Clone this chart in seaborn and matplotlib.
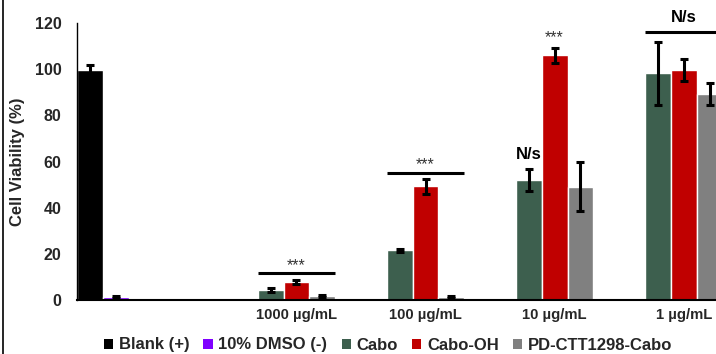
import matplotlib
matplotlib.use("Agg")
import matplotlib.pyplot as plt
import pandas as pd
import seaborn as sns
from matplotlib.patches import Patch

# data
conc = ["", "1000 µg/mL", "100 µg/mL", "10 µg/mL", "1 µg/mL"]
samples = ["Blank (+)", "10% DMSO (-)", "Cabo", "Cabo-OH", "PD-CTT1298-Cabo"]
colors = ["#000000", "#7F00FF", "#3D5F4E", "#C00000", "#808080"]

blank_mean = [99.5]
blank_sd = [2.5]
dmso_mean = [1.3]
dmso_sd = [0.3]
cabo_mean = [4.3, 21.5, 52.0, 98.2]
cabo_sd = [0.8, 0.6, 4.7, 13.7]
caboOH_mean = [7.9, 49.2, 106.0, 99.6]
caboOH_sd = [0.8, 3.2, 3.2, 4.9]
pd_mean = [1.7, 1.2, 49.1, 89.1]
pd_sd = [0.4, 0.4, 10.5, 4.8]

# significance marks: (concentration, text, text height, line height or None, sample under text)
sig_marks = [
    ("1000 µg/mL", "***", 14.7, 11.7, "Cabo-OH"),
    ("100 µg/mL", "***", 58.5, 55.2, "Cabo-OH"),
    ("10 µg/mL", "***", 113.5, None, "Cabo-OH"),
    ("10 µg/mL", "N/s", 63.0, None, "Cabo"),
    ("1 µg/mL", "N/s", 122.5, 116.0, "Cabo-OH"),
]

rows = []
for s, means, sds, cats in [
    (samples[0], blank_mean, blank_sd, conc[:1]),
    (samples[1], dmso_mean, dmso_sd, conc[:1]),
    (samples[2], cabo_mean, cabo_sd, conc[1:]),
    (samples[3], caboOH_mean, caboOH_sd, conc[1:]),
    (samples[4], pd_mean, pd_sd, conc[1:]),
]:
    for c, m, e in zip(cats, means, sds):
        rows.append({"conc": c, "sample": s, "mean": m, "sd": e})
df = pd.DataFrame(rows)

sns.set_style("white")
plt.rcParams["font.family"] = ["Liberation Sans", "DejaVu Sans"]
plt.rcParams["font.weight"] = "bold"

fig = plt.figure(figsize=(7.16, 3.54), dpi=100)
ax = fig.add_axes([77 / 716, 1 - 300 / 354, 1 - 77 / 716, 277 / 354])

sns.barplot(data=df, x="conc", y="mean", hue="sample", order=conc,
            hue_order=samples, palette=colors, width=1.0, dodge=True,
            errorbar=None, saturation=1, legend=False, ax=ax)

# error bars + bar positions from the drawn patches
bars = {}
for cont, s in zip(ax.containers, samples):
    sub = df[df["sample"] == s]
    xs = []
    for p, c in zip(cont.patches, sub["conc"]):
        bars[(s, c)] = p
        xs.append(p.get_x() + p.get_width() / 2)
    ax.errorbar(xs, sub["mean"], yerr=sub["sd"], fmt="none", ecolor="black",
                elinewidth=2.2, capsize=3.0, capthick=2.2, zorder=5)


def center(s, c):
    p = bars[(s, c)]
    return p.get_x() + p.get_width() / 2


for c, txt, ty, ly, s in sig_marks:
    if txt == "***":
        ax.text(center(s, c), ty, txt, ha="center", va="center", fontsize=11.5,
                fontweight="normal", color="#333333", clip_on=False)
    else:
        ax.text(center(s, c), ty, txt, ha="center", va="center", fontsize=12,
                fontweight="bold", color="black", clip_on=False)
    if ly is not None:
        x0 = bars[("Cabo", c)].get_x()
        p = bars[("PD-CTT1298-Cabo", c)]
        x1 = p.get_x() + p.get_width()
        ax.plot([x0, x1], [ly, ly], color="black", lw=2.2, clip_on=False,
                solid_capstyle="butt")

ax.set_xlim(-0.5, 4.45)
ax.set_ylim(0, 120)
ax.set_yticks(range(0, 121, 20))
ax.set_xticks([center("Cabo-OH", c) for c in conc[1:]])
ax.set_xticklabels(conc[1:])
ax.tick_params(axis="both", length=0)
ax.tick_params(axis="y", labelsize=11.5, pad=11)
ax.tick_params(axis="x", labelsize=10.7, pad=6)
ax.set_xlabel("")
ax.set_ylabel("Cell Viability (%)", fontsize=12, fontweight="bold", labelpad=7)
for side in ["top", "right"]:
    ax.spines[side].set_visible(False)
ax.spines["left"].set_color("black")
ax.spines["left"].set_linewidth(1.0)
ax.spines["bottom"].set_color("black")
ax.spines["bottom"].set_linewidth(1.5)

handles = [Patch(facecolor=col, edgecolor="none", label=s)
           for col, s in zip(colors, samples)]
fig.legend(handles=handles, loc="center", bbox_to_anchor=(0.542, 1 - 345 / 354),
           ncol=5, frameon=False, fontsize=12, handlelength=0.55,
           handleheight=0.55, handletextpad=0.35, columnspacing=0.85,
           borderaxespad=0, borderpad=0)

# clipped axis of a neighbouring panel on the far left edge
stray_ticks = [60, 110, 160, 208, 288, 338]
ax2 = fig.add_axes([3 / 716, 0, 0.001, 1])
ax2.set_ylim(354, 0)
ax2.set_yticks(stray_ticks)
ax2.set_xticks([])
ax2.tick_params(axis="y", direction="out", length=5, width=1.2, labelleft=False)
for side in ["top", "right", "bottom"]:
    ax2.spines[side].set_visible(False)
ax2.spines["left"].set_color("black")
ax2.spines["left"].set_linewidth(1.2)
ax2.patch.set_alpha(0)

fig.savefig("out.png", dpi=100)
